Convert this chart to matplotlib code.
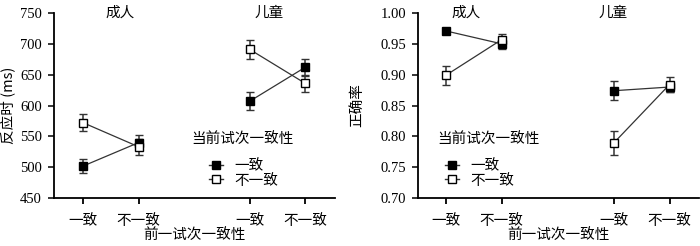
import matplotlib.pyplot as plt
from matplotlib.lines import Line2D

plt.rcParams['font.family'] = ['Liberation Serif', 'Noto Sans CJK SC']

groups = ['成人', '儿童']
prev_labels = ['一致', '不一致', '一致', '不一致']
series_names = ['一致', '不一致']

# reaction time (ms): [adult prev-congruent, adult prev-incongruent, child ..., child ...]
rt_cong = [502, 540, 607, 662]
rt_cong_err = [12, 12, 15, 14]
rt_incong = [572, 533, 691, 636]
rt_incong_err = [14, 13, 16, 14]

# accuracy
acc_cong = [0.971, 0.950, 0.874, 0.880]
acc_cong_err = [0.005, 0.008, 0.015, 0.008]
acc_incong = [0.899, 0.957, 0.789, 0.884]
acc_incong_err = [0.015, 0.009, 0.019, 0.012]

xpos = [0, 1, 3, 4]
cn = ['Noto Sans CJK SC']
cn_size = 10.5

fig = plt.figure(figsize=(7, 2.46), dpi=100)
ax1 = fig.add_axes([0.077, 0.195, 0.401, 0.752])
ax2 = fig.add_axes([0.597, 0.195, 0.401, 0.752])


def panel(ax, cong, cong_err, incong, incong_err, ylim, yticks, fmt, ylabel,
          ylabel_x, xlim, title_x, leg_title_xy, leg_anchor):
    handles = []
    for vals, errs, face in [(cong, cong_err, 'black'), (incong, incong_err, 'white')]:
        for i in (0, 2):
            xs = xpos[i:i + 2]
            ax.errorbar(xs, vals[i:i + 2], yerr=errs[i:i + 2], fmt='-s',
                        color='#333333', ecolor='#333333', elinewidth=1.1,
                        capsize=3, capthick=1.1, lw=0.9, ms=5.8,
                        mfc=face, mec='black', mew=1.0)
        handles.append(Line2D([], [], color='#333333', lw=1.0, marker='s',
                              ms=5.5, mfc=face, mec='black', mew=1.0))
    ax.set_xlim(*xlim)
    ax.set_ylim(*ylim)
    ax.set_yticks(yticks)
    ax.set_yticklabels([fmt.format(v) for v in yticks], fontsize=10.5)
    ax.set_xticks(xpos)
    ax.set_xticklabels(prev_labels, family=cn, fontsize=cn_size)
    ax.tick_params(axis='x', length=4.5, width=1.3, pad=7)
    ax.tick_params(axis='y', length=4.5, width=1.1, pad=4)
    for s in ['top', 'right']:
        ax.spines[s].set_visible(False)
    for s in ['left', 'bottom']:
        ax.spines[s].set_linewidth(1.3)
    ax.set_ylabel(ylabel, family=cn, fontsize=10.5)
    ax.yaxis.set_label_coords(ylabel_x, 0.5)
    ax.set_xlabel('前一试次一致性', family=cn, fontsize=cn_size, labelpad=0)
    for g, tx in zip(groups, title_x):
        ax.text(tx, 1.0, g, transform=ax.get_xaxis_transform(), ha='center',
                va='center', family=cn, fontsize=cn_size)
    ax.text(leg_title_xy[0], leg_title_xy[1], '当前试次一致性',
            transform=ax.transAxes, ha='left', va='center', family=cn,
            fontsize=cn_size)
    ax.legend(handles, series_names, frameon=False, loc='upper left',
              bbox_to_anchor=leg_anchor, prop={'family': cn, 'size': cn_size},
              handlelength=0.96, handletextpad=0.82, labelspacing=0.05,
              borderpad=0, borderaxespad=0)


panel(ax1, rt_cong, rt_cong_err, rt_incong, rt_incong_err, (450, 750),
      [450, 500, 550, 600, 650, 700, 750], '{:.0f}', '反应时 (ms)', -0.139,
      (-0.53, 4.53), (0.67, 3.35), (0.491, 0.319), (0.552, 0.212))
panel(ax2, acc_cong, acc_cong_err, acc_incong, acc_incong_err, (0.70, 1.00),
      [0.70, 0.75, 0.80, 0.85, 0.90, 0.95, 1.00], '{:.2f}', '正确率', -0.19,
      (-0.5, 4.52), (0.36, 3.0), (0.068, 0.319), (0.096, 0.212))

fig.savefig('out.png', dpi=100)
